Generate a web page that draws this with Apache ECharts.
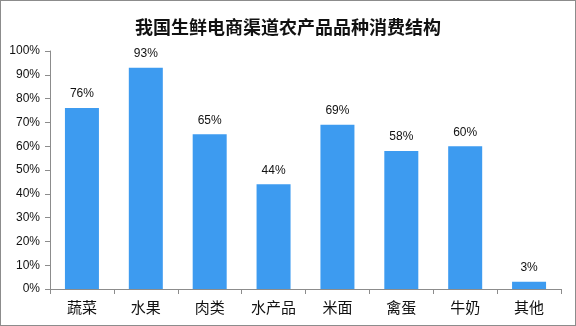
<!DOCTYPE html>
<html><head><meta charset="utf-8">
<script src="https://cdn.jsdelivr.net/npm/echarts@6/dist/echarts.min.js"></script>
<style>html,body{margin:0;padding:0;background:#fff}#c{width:576px;height:326px;box-sizing:border-box;border:1px solid #8c8c8c}</style>
</head><body><div id="c"></div>
<script>
const categories = ['蔬菜','水果','肉类','水产品','米面','禽蛋','牛奶','其他'];
const values = [76, 93, 65, 44, 69, 58, 60, 3];
const yTicks = [0, 10, 20, 30, 40, 50, 60, 70, 80, 90, 100];
const title = '我国生鲜电商渠道农产品品种消费结构';

const chart = echarts.init(document.getElementById('c'), null, {renderer:'canvas'});
chart.setOption({
  animation:false,
  title:{text:title,left:'center',top:12,textStyle:{fontFamily:'Noto Sans CJK SC',fontWeight:'bold',fontSize:18,color:'#111'}},
  grid:{left:49,right:14,top:50,bottom:36},
  xAxis:{type:'category',data:categories,
    axisLine:{lineStyle:{color:'#8c8c8c'}},
    axisTick:{show:true,alignWithLabel:false,length:5,lineStyle:{color:'#8c8c8c'}},
    axisLabel:{color:'#111',fontSize:15,fontFamily:'Noto Sans CJK SC',margin:11}},
  yAxis:{type:'value',min:yTicks[0],max:yTicks[yTicks.length-1],interval:10,
    axisLine:{show:true,lineStyle:{color:'#8c8c8c'}},
    axisTick:{show:true,length:5,lineStyle:{color:'#8c8c8c'}},
    splitLine:{show:false},
    axisLabel:{color:'#111',fontSize:12,fontFamily:'Liberation Sans',margin:10,formatter:'{value}%'}},
  series:[{type:'bar',data:values,barWidth:34,itemStyle:{color:'#3d9bf0'},
    label:{show:true,position:'top',distance:8,formatter:'{c}%',color:'#111',fontSize:12,fontFamily:'Liberation Sans'}}]
});
</script></body></html>
